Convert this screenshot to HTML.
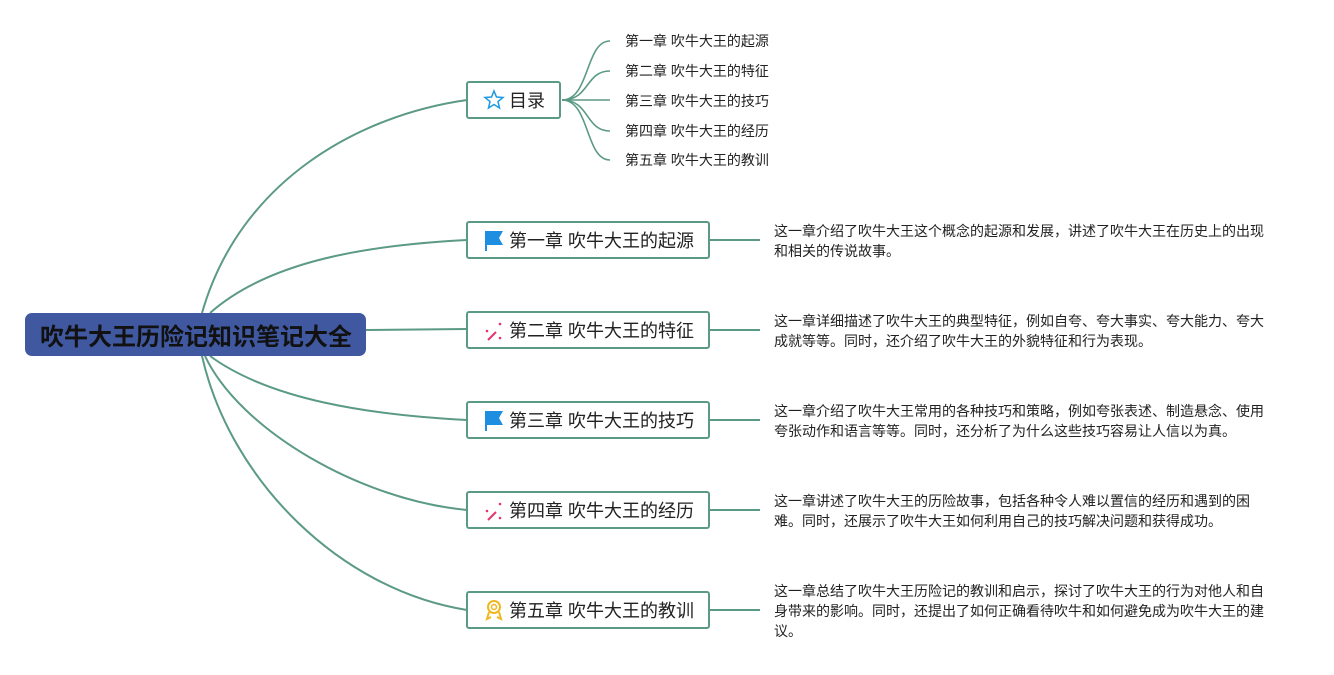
<!DOCTYPE html>
<html><head><meta charset="utf-8"><style>
body{margin:0;background:#fff;}
svg text{font-family:"Liberation Sans","Noto Sans CJK SC",sans-serif;}
</style></head><body>
<svg width="1334" height="670" xmlns="http://www.w3.org/2000/svg">
<g fill="none" stroke="#5b9a84" stroke-width="2">
<path d="M202,313 C240,180 360,115 467,100"/>
<path d="M210,313 C270,260 370,245 467,240"/>
<path d="M366,330 L467,329"/>
<path d="M210,356 C270,400 370,415 467,420"/>
<path d="M205,356 C240,430 360,500 467,510"/>
<path d="M202,356 C230,480 340,590 467,610"/>
<path d="M709,240 H760 M709,330 H760 M709,420 H760 M709,510 H760 M709,610 H760"/>
</g>
<g fill="none" stroke="#5b9a84" stroke-width="1.6">
<path d="M562,100 C590,100 585,41 610,41"/>
<path d="M562,100 C590,100 585,71 610,71"/>
<path d="M562,100 H610"/>
<path d="M562,100 C590,100 585,131 610,131"/>
<path d="M562,100 C590,100 585,160 610,160"/>
</g>
<rect x="25" y="313" width="341" height="43" rx="7" fill="#3f58a0"/>
<text x="196" y="345" font-size="24" font-weight="bold" fill="#111" text-anchor="middle">吹牛大王历险记知识笔记大全</text>
<g fill="#fff" stroke="#5b9a84" stroke-width="2">
<rect x="467" y="82" width="93" height="36" rx="2"/>
<rect x="467" y="222" width="242" height="36" rx="2"/>
<rect x="467" y="312" width="242" height="36" rx="2"/>
<rect x="467" y="402" width="242" height="36" rx="2"/>
<rect x="467" y="492" width="242" height="36" rx="2"/>
<rect x="467" y="592" width="242" height="36" rx="2"/>
</g>
<polygon points="494,91 496.5,97 503,97.5 498,101.5 499.5,108 494,104.5 488.5,108 490,101.5 485,97.5 491.5,97" fill="none" stroke="#1e9ae0" stroke-width="1.5"/>
<text x="509" y="107" font-size="18" fill="#222">目录</text>
<g fill="#1e8fe0"><path d="M485,231 H503 L499,238 L503,245 H487 V251 H485Z"/></g>
<g fill="#1e8fe0"><path d="M485,411 H503 L499,418 L503,425 H487 V431 H485Z"/></g>
<g stroke="#e8336b" stroke-width="2"><path d="M488,340 L496,332"/><path d="M488,520 L496,512"/></g>
<g fill="#e8336b"><circle cx="500" cy="324" r="1.3"/><circle cx="487" cy="331" r="1.3"/><circle cx="500" cy="338" r="1.3"/><circle cx="500" cy="504" r="1.3"/><circle cx="487" cy="511" r="1.3"/><circle cx="500" cy="518" r="1.3"/></g>
<circle cx="494" cy="607" r="6" fill="none" stroke="#f0b820" stroke-width="2"/>
<circle cx="494" cy="607" r="2.5" fill="none" stroke="#f0b820" stroke-width="1.5"/>
<path d="M489,612 L487,619 L491,617 M499,612 L501,619 L497,617" fill="none" stroke="#f0b820" stroke-width="2"/>
<g font-size="18" fill="#222">
<text x="509" y="247">第一章 吹牛大王的起源</text>
<text x="509" y="337">第二章 吹牛大王的特征</text>
<text x="509" y="427">第三章 吹牛大王的技巧</text>
<text x="509" y="517">第四章 吹牛大王的经历</text>
<text x="509" y="617">第五章 吹牛大王的教训</text>
</g>
<g font-size="14" fill="#222">
<text x="625" y="46">第一章 吹牛大王的起源</text>
<text x="625" y="76">第二章 吹牛大王的特征</text>
<text x="625" y="106">第三章 吹牛大王的技巧</text>
<text x="625" y="136">第四章 吹牛大王的经历</text>
<text x="625" y="165">第五章 吹牛大王的教训</text>
<text x="774" y="236">这一章介绍了吹牛大王这个概念的起源和发展，讲述了吹牛大王在历史上的出现</text>
<text x="774" y="256">和相关的传说故事。</text>
<text x="774" y="326">这一章详细描述了吹牛大王的典型特征，例如自夸、夸大事实、夸大能力、夸大</text>
<text x="774" y="346">成就等等。同时，还介绍了吹牛大王的外貌特征和行为表现。</text>
<text x="774" y="416">这一章介绍了吹牛大王常用的各种技巧和策略，例如夸张表述、制造悬念、使用</text>
<text x="774" y="436">夸张动作和语言等等。同时，还分析了为什么这些技巧容易让人信以为真。</text>
<text x="774" y="506">这一章讲述了吹牛大王的历险故事，包括各种令人难以置信的经历和遇到的困</text>
<text x="774" y="526">难。同时，还展示了吹牛大王如何利用自己的技巧解决问题和获得成功。</text>
<text x="774" y="596">这一章总结了吹牛大王历险记的教训和启示，探讨了吹牛大王的行为对他人和自</text>
<text x="774" y="616">身带来的影响。同时，还提出了如何正确看待吹牛和如何避免成为吹牛大王的建</text>
<text x="774" y="636">议。</text>
</g>
</svg>
</body></html>
